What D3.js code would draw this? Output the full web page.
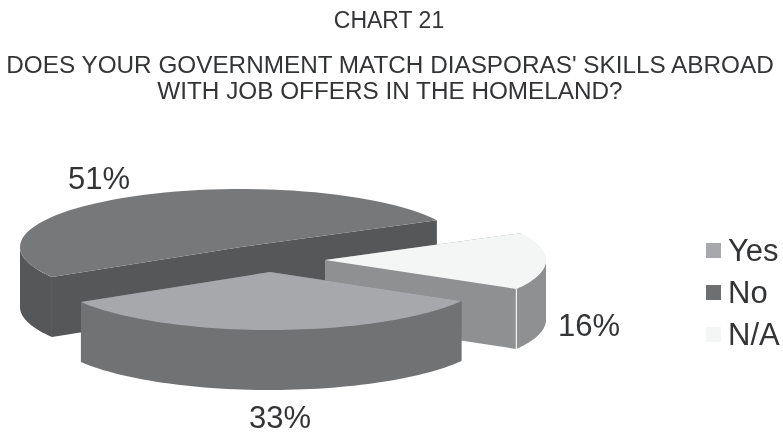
<!DOCTYPE html>
<html>
<head>
<meta charset="utf-8">
<script src="https://cdnjs.cloudflare.com/ajax/libs/d3/7.8.5/d3.min.js"></script>
<style>
  html, body { margin: 0; padding: 0; background: #fff; }
  svg { display: block; filter: blur(0.5px); }
  text { font-family: "Liberation Sans", Arial, sans-serif; fill: #333436; }
</style>
</head>
<body>
<svg id="chart"></svg>
<script>
// Values
var categories = ["Yes", "No", "N/A"];
var shares = [33, 51, 16];
var shareLabels = ["33%", "51%", "16%"];
var topColors = ["#a7a8ab", "#77787a", "#f4f6f5"];
var sideColors = ["#717274", "#565759", "#8f9092"];
var legendColors = ["#a7a8ab", "#6e6f71", "#f4f6f5"];
var titleLines = [
  "DOES YOUR GOVERNMENT MATCH DIASPORAS' SKILLS ABROAD",
  "WITH JOB OFFERS IN THE HOMELAND?"
];

var width = 783;
var height = 432;
var depth = 60;

// each slice is pulled away from the pie, so it gets its own centre
var centres = [[270, 272], [241, 247], [325, 260]];
var labelPos = [[280, 428], [99, 189], [589, 336]];

var svg = d3.select("#chart").attr("width", width).attr("height", height);

var rx = d3.scaleLinear().domain([-1, 1]).range([-221, 221]);
var ry = d3.scaleLinear().domain([-1, 1]).range([-58, 58]);

var pie = d3.pie().sort(null).startAngle(120 * Math.PI / 180).endAngle(480 * Math.PI / 180);
var slices = pie(shares);
var line = d3.line();

function rim(i, a, drop) {
  return [centres[i][0] + rx(Math.sin(a)), centres[i][1] - ry(Math.cos(a)) + (drop || 0)];
}

function arcPoints(i, a0, a1, drop) {
  var n = 60, pts = [];
  for (var k = 0; k <= n; k++) pts.push(rim(i, a0 + (a1 - a0) * k / n, drop));
  return pts;
}

// only the front half of the rim can be seen
function frontRange(d) {
  var lo = Math.PI / 2, hi = 3 * Math.PI / 2;
  if (d.startAngle >= 2 * Math.PI) { lo += 2 * Math.PI; hi += 2 * Math.PI; }
  return [Math.max(d.startAngle, lo), Math.min(d.endAngle, hi)];
}

var drawOrder = [1, 2, 0];

drawOrder.forEach(function(i) {
  var d = slices[i];
  var g = svg.append("g").attr("class", "slice");
  var c = centres[i];

  // cut faces
  [d.startAngle, d.endAngle].forEach(function(a) {
    var p = rim(i, a);
    g.append("path")
      .attr("d", line([c, p, [p[0], p[1] + depth], [c[0], c[1] + depth]]) + "Z")
      .attr("fill", sideColors[i]);
  });

  // outer wall
  var r = frontRange(d);
  if (r[1] > r[0]) {
    var upper = arcPoints(i, r[0], r[1], 0);
    var lower = arcPoints(i, r[1], r[0], depth);
    g.append("path")
      .attr("d", line(upper.concat(lower)) + "Z")
      .attr("fill", sideColors[i]);
  }

  // top face
  g.append("path")
    .attr("d", line([c].concat(arcPoints(i, d.startAngle, d.endAngle, 0))) + "Z")
    .attr("fill", topColors[i]);

  if (categories[i] === "N/A") {
    var corner = rim(i, d.endAngle);
    g.append("line")
      .attr("x1", corner[0]).attr("y1", corner[1])
      .attr("x2", corner[0]).attr("y2", corner[1] + depth)
      .attr("stroke", "#f4f6f5").attr("stroke-width", 1.2);
  }
});

// titles
svg.append("text")
  .attr("x", 389).attr("y", 28)
  .attr("text-anchor", "middle")
  .style("font-size", "23px")
  .text("CHART 21");

svg.selectAll(".title-line")
  .data(titleLines)
  .enter().append("text")
  .attr("class", "title-line")
  .attr("x", 390)
  .attr("y", (d, i) => 73 + i * 26)
  .attr("text-anchor", "middle")
  .style("font-size", "24.3px")
  .text(d => d);

// percentage labels
svg.selectAll(".share-label")
  .data(shareLabels)
  .enter().append("text")
  .attr("class", "share-label")
  .attr("x", (d, i) => labelPos[i][0])
  .attr("y", (d, i) => labelPos[i][1])
  .attr("text-anchor", "middle")
  .style("font-size", "31px")
  .text(d => d);

// legend
var legendY = d3.scalePoint().domain(categories).range([250, 334]);
var legend = svg.selectAll(".legend")
  .data(categories)
  .enter().append("g")
  .attr("class", "legend")
  .attr("transform", d => `translate(706,${legendY(d)})`);

legend.append("rect")
  .attr("x", 0).attr("y", -7)
  .attr("width", 15).attr("height", 15)
  .attr("fill", (d, i) => legendColors[i]);

legend.append("text")
  .attr("x", 22).attr("y", 11)
  .style("font-size", "31px")
  .text(d => d);
</script>
</body>
</html>
